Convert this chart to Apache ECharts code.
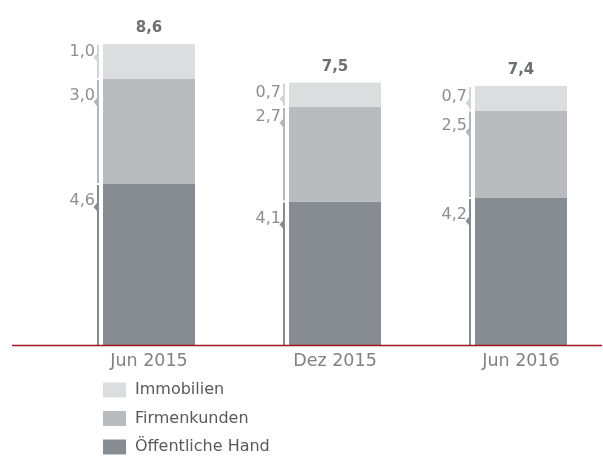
<!DOCTYPE html>
<html style="height: 100%">
<head>
    <meta charset="utf-8">
    <style type="text/css">
        #container{width: 614px;height:458px;}
    </style>
</head>
<body style="height: 100%; margin: 0; overflow: hidden">
<div id="container"></div>
<script src="https://cdn.jsdelivr.net/npm/echarts@6/dist/echarts.min.js"></script>
<script type="text/javascript">
    // data
    var categories = ['Jun 2015', 'Dez 2015', 'Jun 2016'];
    var seriesNames = ['Öffentliche Hand', 'Firmenkunden', 'Immobilien'];
    var oeffentlich = [4.6, 4.1, 4.2];
    var firmen = [3.0, 2.7, 2.5];
    var immobilien = [1.0, 0.7, 0.7];
    var totals = [8.6, 7.5, 7.4];

    var values = [oeffentlich, firmen, immobilien];
    var colors = ['#878c92', '#b9bcbf', '#dcdddf'];
    var lineColors = ['#878c92', '#b3b6b9', '#d3d4d6'];
    // label centre below the segment top, per series / per column
    var labelOffset = [[17, 17, 17], [17, 10, 15.5], [7.5, 10.5, 11]];
    var BAR_W = 92;
    var FONT = '"DejaVu Sans", sans-serif';

    function fmt(v) { return v.toFixed(1).replace('.', ','); }

    // chart div is 11px wider than the window so the last column is centred like the original
    var myChart = echarts.init(document.getElementById('container'));

    // bracket data: [category, bottom, top, series index, value]
    var bracketData = [];
    for (var i = 0; i < categories.length; i++) {
        var base = 0;
        for (var s = 0; s < values.length; s++) {
            bracketData.push([i, base, base + values[s][i], s, values[s][i]]);
            base += values[s][i];
        }
    }

    function renderBracket(params, api) {
        var i = api.value(0), s = api.value(3);
        var p0 = api.coord([i, api.value(1)]);
        var p1 = api.coord([i, api.value(2)]);
        var lx = p0[0] - BAR_W / 2 - 6;
        var y1 = p1[1] + 1;
        var y0 = s === 0 ? p0[1] : p0[1] - 1;
        var ly = p1[1] + labelOffset[s][i];
        var ny = ly + 6;
        return {
            type: 'group',
            children: [
                { type: 'rect', shape: { x: lx, y: y1, width: 2, height: y0 - y1 },
                  style: { fill: lineColors[s] } },
                { type: 'polygon', shape: { points: [[lx, ny - 4], [lx - 3.5, ny], [lx, ny + 4]] },
                  style: { fill: lineColors[s] } },
                { type: 'text', x: lx - 2, y: ly,
                  style: { text: fmt(api.value(4)), fill: '#8c8e91', font: '16px ' + FONT,
                           align: 'right', verticalAlign: 'middle' } }
            ]
        };
    }

    var series = [];
    for (var k = 0; k < values.length; k++) {
        series.push({
            name: seriesNames[k],
            type: 'bar',
            stack: 'total',
            barWidth: BAR_W,
            itemStyle: { color: colors[k] },
            data: values[k]
        });
    }
    series[2].label = {
        show: true,
        position: 'top',
        distance: 8,
        color: '#6d6f72',
        fontFamily: FONT,
        fontWeight: 'bold',
        fontSize: 15,
        formatter: function (p) { return fmt(totals[p.dataIndex]); }
    };
    series.push({
        type: 'custom',
        renderItem: renderBracket,
        encode: { x: 0, y: [1, 2] },
        clip: false,
        silent: true,
        data: bracketData
    });

    var option = {
        backgroundColor: '#ffffff',
        animation: false,
        textStyle: { fontFamily: FONT },
        legend: {
            orient: 'vertical',
            left: 103,
            top: 382,
            padding: 0,
            icon: 'rect',
            itemWidth: 23,
            itemHeight: 15,
            itemGap: 12.5,
            data: ['Immobilien', 'Firmenkunden', 'Öffentliche Hand'],
            textStyle: { color: '#58595b', fontSize: 16, fontFamily: FONT, padding: [0, 0, 0, 4] }
        },
        grid: { left: 56, width: 558, top: 30, height: 315 },
        xAxis: {
            type: 'category',
            data: categories,
            axisLine: { show: false },
            axisTick: { show: false },
            axisLabel: { color: '#808285', fontSize: 17.5, fontFamily: FONT, margin: 7 }
        },
        yAxis: {
            type: 'value',
            min: 0,
            max: 9,
            show: false
        },
        graphic: [{
            type: 'line',
            shape: { x1: 12, y1: 345.5, x2: 602, y2: 345.5 },
            style: { stroke: '#a0161c', lineWidth: 1.5 },
            z: 10
        }],
        series: series
    };
    myChart.setOption(option);
</script>
</body>
</html>
